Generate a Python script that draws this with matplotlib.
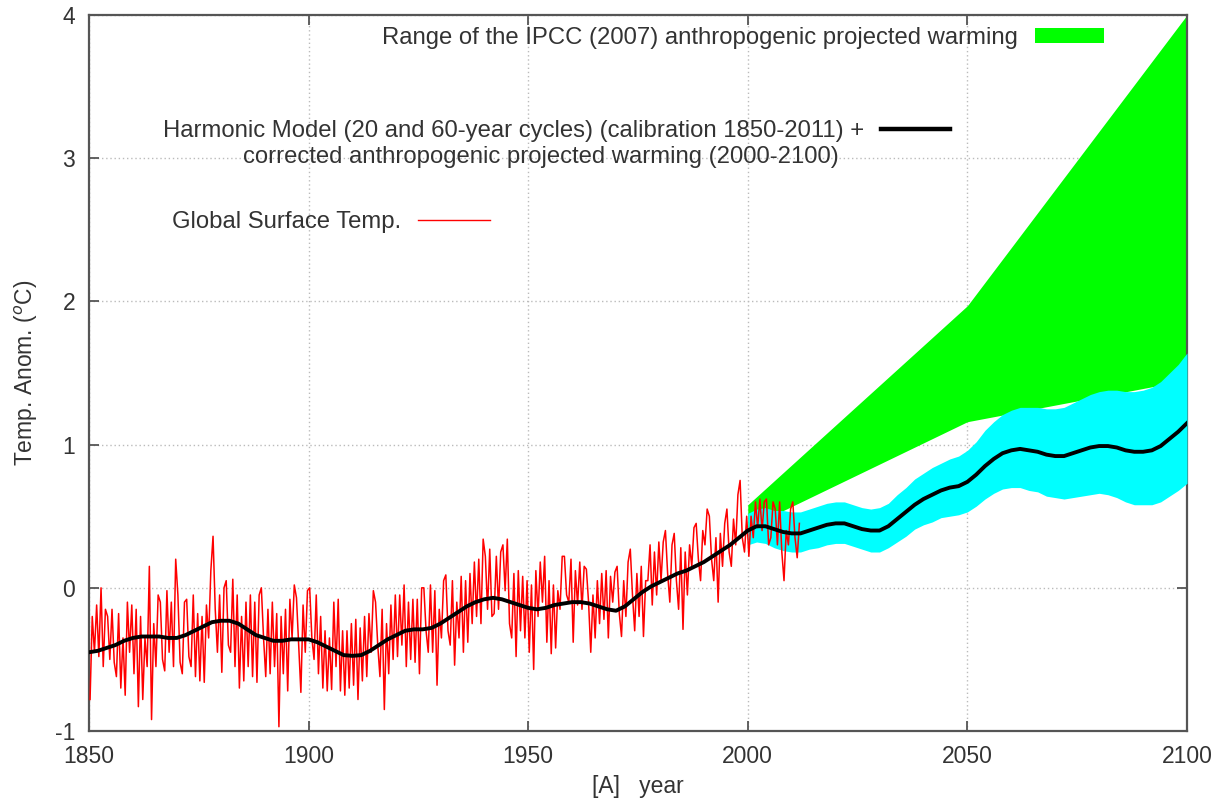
import matplotlib
matplotlib.use('Agg')
import matplotlib.pyplot as plt
import numpy as np
from matplotlib.patches import Patch
from matplotlib.lines import Line2D

plt.rcParams['font.family'] = ['Liberation Sans', 'DejaVu Sans']
plt.rcParams['axes.unicode_minus'] = False

# observed global surface temperature, two readings per year, 1850-2011
obs_start = 1850
obs_temp = [
    -0.78, -0.20, -0.45, -0.12, -0.48, 0.00, -0.55, -0.15, -0.20, -0.50,
    -0.15, -0.52, -0.62, -0.18, -0.70, -0.35, -0.75, -0.10, -0.45, -0.12,
    # 1860s
    -0.60, -0.15, -0.83, -0.20, -0.78, -0.35, -0.55, 0.15, -0.92, -0.25,
    -0.55, -0.05, -0.10, -0.50, -0.58, -0.02, -0.45, -0.10, -0.55, 0.20,
    # 1870s
    -0.05, -0.52, -0.60, -0.10, -0.08, -0.48, -0.55, -0.05, -0.62, -0.18,
    -0.65, -0.20, -0.66, -0.12, -0.35, 0.12, 0.36, -0.15, -0.45, -0.05,
    # 1880s
    -0.59, 0.00, 0.05, -0.40, -0.45, 0.06, -0.55, -0.05, -0.70, -0.20,
    -0.65, -0.10, -0.55, -0.05, -0.62, -0.10, -0.66, -0.05, 0.00, -0.35,
    # 1890s
    -0.62, -0.15, -0.60, -0.10, -0.55, -0.18, -0.97, -0.20, -0.60, -0.15,
    -0.72, -0.08, -0.35, 0.02, -0.07, -0.40, -0.73, -0.12, -0.45, -0.02,
    # 1900s
    0.00, -0.35, -0.50, -0.05, -0.60, -0.20, -0.70, -0.30, -0.72, -0.35,
    -0.71, -0.10, -0.55, -0.08, -0.72, -0.30, -0.75, -0.30, -0.70, -0.25,
    # 1910s
    -0.68, -0.22, -0.78, -0.28, -0.65, -0.20, -0.62, -0.18, -0.45, -0.02,
    -0.10, -0.40, -0.62, -0.15, -0.85, -0.25, -0.60, -0.12, -0.50, -0.05,
    # 1920s
    -0.48, -0.05, -0.40, 0.02, -0.55, -0.10, -0.50, -0.08, -0.52, -0.08,
    -0.60, 0.00, 0.00, -0.30, -0.45, 0.02, -0.45, -0.02, -0.68, -0.15,
    # 1930s
    -0.35, 0.05, 0.09, -0.30, -0.40, 0.05, -0.54, -0.10, -0.35, 0.08,
    -0.45, 0.05, -0.38, 0.10, -0.25, 0.18, -0.20, 0.20, -0.25, 0.34,
    # 1940s
    0.22, -0.15, 0.27, -0.20, -0.18, 0.22, -0.15, 0.25, 0.30, -0.02,
    0.34, -0.25, -0.35, 0.10, -0.48, 0.12, -0.30, 0.08, -0.35, 0.05,
    # 1950s
    -0.45, 0.02, -0.57, 0.12, -0.20, 0.18, -0.10, 0.22, -0.38, 0.05,
    -0.46, 0.02, -0.42, -0.02, -0.15, 0.22, 0.22, -0.05, -0.10, 0.20,
    # 1960s
    -0.38, 0.12, -0.12, 0.18, -0.15, 0.15, 0.13, -0.10, -0.45, -0.05,
    -0.35, 0.05, -0.25, 0.10, -0.22, 0.12, -0.35, 0.08, -0.10, 0.11,
    # 1970s
    0.15, -0.18, -0.34, 0.05, -0.20, 0.18, 0.27, -0.05, -0.30, 0.10,
    -0.20, 0.15, -0.34, 0.05, 0.05, 0.30, -0.12, 0.25, -0.05, 0.32,
    # 1980s
    0.05, 0.32, 0.40, 0.10, -0.10, 0.30, 0.38, 0.05, -0.15, 0.28,
    -0.29, 0.25, -0.05, 0.30, 0.15, 0.42, 0.45, 0.20, 0.05, 0.40,
    # 1990s
    0.30, 0.55, 0.50, 0.20, 0.05, 0.35, -0.10, 0.38, 0.15, 0.45,
    0.55, 0.25, 0.15, 0.48, 0.30, 0.65, 0.75, 0.35, 0.25, 0.50,
    # 2000-2011
    0.22, 0.50, 0.35, 0.60, 0.42, 0.62, 0.40, 0.60, 0.62, 0.30,
    0.35, 0.60, 0.55, 0.30, 0.60, 0.25, 0.05, 0.40, 0.30, 0.55,
    0.60, 0.35, 0.21, 0.45,
]

# harmonic model, every 2 years 1850-2100
model_years = list(range(1850, 2101, 2))
model_temp = [
    -0.45, -0.44, -0.42, -0.40, -0.37, -0.35, -0.34, -0.34, -0.34, -0.35,
    -0.35, -0.33, -0.30, -0.27, -0.24, -0.23, -0.23, -0.25, -0.29, -0.33,
    -0.35, -0.37, -0.37, -0.36, -0.36, -0.36, -0.38, -0.41, -0.44, -0.47,
    -0.475, -0.47, -0.44, -0.40, -0.36, -0.33, -0.30, -0.29, -0.29, -0.28,
    -0.25, -0.21, -0.17, -0.13, -0.10, -0.08, -0.07, -0.08, -0.10, -0.12,
    -0.14, -0.15, -0.14, -0.12, -0.11, -0.10, -0.10, -0.11, -0.13, -0.15,
    -0.16, -0.13, -0.08, -0.03, 0.01, 0.04, 0.07, 0.10, 0.12, 0.15,
    0.18, 0.22, 0.26, 0.30, 0.35, 0.40, 0.43, 0.43, 0.41, 0.39,
    0.38, 0.38, 0.40, 0.42, 0.44, 0.45, 0.45, 0.43, 0.41, 0.40,
    0.40, 0.43, 0.48, 0.53, 0.58, 0.62, 0.65, 0.68, 0.70, 0.71,
    0.74, 0.79, 0.85, 0.90, 0.94, 0.96, 0.97, 0.96, 0.95, 0.93,
    0.92, 0.92, 0.94, 0.96, 0.98, 0.99, 0.99, 0.98, 0.96, 0.95,
    0.95, 0.96, 0.99, 1.04, 1.09, 1.15,
]

# uncertainty band of the model projection, every 2 years 2000-2100
band_years = list(range(2000, 2101, 2))
band_high = [
    0.52, 0.55, 0.56, 0.54, 0.54, 0.53, 0.53, 0.55, 0.57, 0.59,
    0.60, 0.60, 0.58, 0.56, 0.55, 0.56, 0.59, 0.65, 0.70, 0.76,
    0.80, 0.84, 0.87, 0.90, 0.92, 0.96, 1.02, 1.10, 1.16, 1.21,
    1.24, 1.26, 1.26, 1.26, 1.25, 1.25, 1.26, 1.29, 1.32, 1.35,
    1.37, 1.38, 1.38, 1.37, 1.37, 1.38, 1.40, 1.44, 1.50, 1.56,
    1.64,
]
band_low = [
    0.30, 0.32, 0.31, 0.28, 0.26, 0.25, 0.25, 0.27, 0.28, 0.30,
    0.31, 0.31, 0.29, 0.27, 0.25, 0.25, 0.28, 0.32, 0.36, 0.41,
    0.44, 0.46, 0.49, 0.50, 0.51, 0.53, 0.57, 0.62, 0.66, 0.69,
    0.70, 0.70, 0.68, 0.67, 0.64, 0.63, 0.62, 0.63, 0.64, 0.65,
    0.66, 0.65, 0.63, 0.60, 0.58, 0.58, 0.58, 0.60, 0.64, 0.68,
    0.73,
]

# IPCC (2007) projected range
ipcc_years = [2000, 2050, 2100]
ipcc_high = [0.58, 1.97, 4.00]
ipcc_low = [0.42, 1.16, 1.45]

obs_x = obs_start + 0.25 + 0.5 * np.arange(len(obs_temp))

fig = plt.figure(figsize=(12.27, 8.02), dpi=100)
ax = fig.add_axes([0.0725, 0.0885, 0.8949, 0.8928])

ax.fill_between(ipcc_years, ipcc_low, ipcc_high, color='#00ff00', lw=0, zorder=2)
ax.fill_between(band_years, band_low, band_high, color='#00ffff', lw=0, zorder=3)
ax.plot(obs_x, obs_temp, color='#ff0000', lw=1.1, zorder=4)
ax.plot(model_years, model_temp, color='black', lw=2.8, zorder=5)

ax.set_xlim(1850, 2100)
ax.set_ylim(-1, 4)
ax.set_xticks([1850, 1900, 1950, 2000, 2050, 2100])
ax.set_yticks([-1, 0, 1, 2, 3, 4])
ax.set_axisbelow(True)
ax.grid(color='#bbbbbb', linestyle=(0, (1, 2)), linewidth=1.0)

for s in ax.spines.values():
    s.set_color('#555555')
    s.set_linewidth(1.6)
ax.tick_params(direction='in', top=True, right=True, length=7, width=1.3,
               color='#555555', labelsize=16.5, labelcolor='#333333', pad=10)

ax.set_xlabel('[A]   year', fontsize=16.5, color='#333333')
ax.set_ylabel('Temp. Anom. ($^o$C)', fontsize=16.5, color='#333333')
ax.xaxis.set_label_coords(0.5, -0.062)
ax.yaxis.set_label_coords(-0.045, 0.5)

fs = 17.2
leg1 = fig.legend([Patch(color='#00ff00', lw=0)],
                  ['Range of the IPCC (2007) anthropogenic projected warming'],
                  loc='center right', bbox_to_anchor=(1104 / 1227, 1 - 38 / 802),
                  frameon=False, markerfirst=False, fontsize=fs, borderpad=0,
                  borderaxespad=0, handlelength=2.9, handleheight=0.55,
                  handletextpad=0.7, labelcolor='#333333')
leg2 = fig.legend([Line2D([], [], color='black', lw=3.2)],
                  ['Harmonic Model (20 and 60-year cycles) (calibration 1850-2011) +'],
                  loc='center right', bbox_to_anchor=(950 / 1227, 1 - 131 / 802),
                  frameon=False, markerfirst=False, fontsize=fs, borderpad=0,
                  borderaxespad=0, handlelength=2.9, handletextpad=0.7,
                  labelcolor='#333333')
fig.text(541 / 1227, 1 - 157 / 802, 'corrected anthropogenic projected warming (2000-2100)',
         ha='center', va='center', fontsize=fs, color='#333333')
leg3 = fig.legend([Line2D([], [], color='#ff0000', lw=1.0)],
                  ['Global Surface Temp.'],
                  loc='center right', bbox_to_anchor=(490 / 1227, 1 - 222 / 802),
                  frameon=False, markerfirst=False, fontsize=fs, borderpad=0,
                  borderaxespad=0, handlelength=3.0, handletextpad=0.7,
                  labelcolor='#333333')

fig.savefig('out.png', dpi=100)
